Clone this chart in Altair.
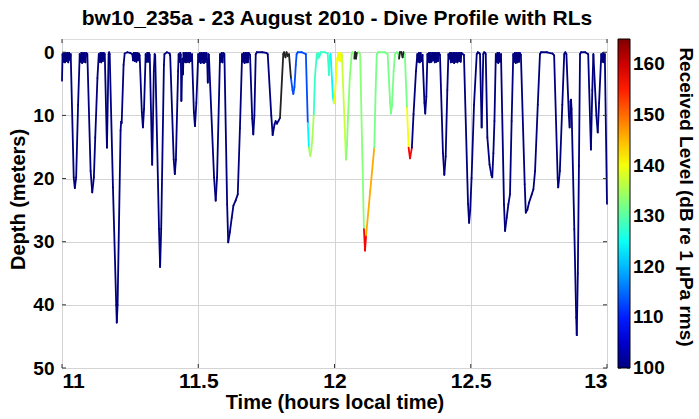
import altair as alt
import pandas as pd

# ---- dive profile (time in hours, depth in metres) ----
time_h = [
    11.000, 11.002, 11.005, 11.008, 11.011, 11.014, 11.017, 11.020, 11.023, 11.026,
    11.029, 11.032, 11.043, 11.047, 11.052, 11.059, 11.065, 11.068, 11.071, 11.074,
    11.077, 11.080, 11.083, 11.086, 11.089, 11.093, 11.105, 11.111, 11.117, 11.122,
    11.130, 11.135, 11.138, 11.141, 11.144, 11.147, 11.150, 11.153, 11.157, 11.165,
    11.171, 11.173, 11.175, 11.187, 11.199, 11.201, 11.204, 11.215, 11.217, 11.219,
    11.226, 11.230, 11.240, 11.250, 11.258, 11.261, 11.264, 11.267, 11.270, 11.273,
    11.276, 11.279, 11.282, 11.285, 11.293, 11.297, 11.301, 11.307, 11.310, 11.313,
    11.316, 11.319, 11.322, 11.331, 11.337, 11.340, 11.342, 11.356, 11.360, 11.364,
    11.374, 11.376, 11.385, 11.395, 11.397, 11.410, 11.414, 11.418, 11.426, 11.428,
    11.431, 11.434, 11.436, 11.438, 11.442, 11.444, 11.446, 11.449, 11.452, 11.455,
    11.458, 11.461, 11.464, 11.467, 11.470, 11.473, 11.477, 11.484, 11.488, 11.493,
    11.500, 11.503, 11.506, 11.509, 11.512, 11.515, 11.518, 11.521, 11.524, 11.527,
    11.530, 11.533, 11.535, 11.537, 11.539, 11.558, 11.564, 11.569, 11.580, 11.583,
    11.586, 11.589, 11.592, 11.596, 11.606, 11.610, 11.616, 11.623, 11.629, 11.637,
    11.645, 11.653, 11.661, 11.664, 11.667, 11.670, 11.673, 11.676, 11.679, 11.682,
    11.685, 11.690, 11.698, 11.702, 11.706, 11.711, 11.715, 11.735, 11.750, 11.755,
    11.768, 11.773, 11.780, 11.784, 11.789, 11.794, 11.800, 11.812, 11.815, 11.820,
    11.824, 11.828, 11.833, 11.840, 11.846, 11.849, 11.853, 11.858, 11.861, 11.865,
    11.880, 11.895, 11.902, 11.906, 11.911, 11.915, 11.919, 11.924, 11.928, 11.935,
    11.938, 11.941, 11.944, 11.950, 11.965, 11.975, 11.980, 11.983, 11.986, 11.994,
    11.998, 12.003, 12.010, 12.014, 12.016, 12.018, 12.020, 12.022, 12.024, 12.027,
    12.039, 12.042, 12.046, 12.049, 12.056, 12.063, 12.066, 12.070, 12.073, 12.076,
    12.079, 12.082, 12.088, 12.094, 12.108, 12.112, 12.116, 12.131, 12.146, 12.151,
    12.155, 12.160, 12.185, 12.195, 12.204, 12.207, 12.211, 12.217, 12.222, 12.228,
    12.234, 12.237, 12.240, 12.245, 12.250, 12.253, 12.258, 12.266, 12.272, 12.277,
    12.284, 12.290, 12.299, 12.304, 12.307, 12.310, 12.313, 12.316, 12.319, 12.323,
    12.330, 12.333, 12.337, 12.341, 12.344, 12.347, 12.350, 12.353, 12.356, 12.359,
    12.362, 12.365, 12.368, 12.371, 12.374, 12.377, 12.380, 12.383, 12.387, 12.398,
    12.403, 12.408, 12.414, 12.418, 12.421, 12.424, 12.427, 12.430, 12.433, 12.436,
    12.439, 12.442, 12.445, 12.448, 12.451, 12.454, 12.457, 12.460, 12.463, 12.466,
    12.470, 12.475, 12.490, 12.494, 12.498, 12.503, 12.512, 12.522, 12.526, 12.530,
    12.534, 12.540, 12.546, 12.549, 12.553, 12.555, 12.561, 12.569, 12.576, 12.579,
    12.583, 12.587, 12.592, 12.595, 12.598, 12.601, 12.604, 12.607, 12.611, 12.622,
    12.626, 12.632, 12.638, 12.644, 12.650, 12.656, 12.659, 12.662, 12.665, 12.668,
    12.671, 12.674, 12.677, 12.680, 12.684, 12.698, 12.702, 12.708, 12.714, 12.724,
    12.730, 12.736, 12.746, 12.754, 12.758, 12.780, 12.800, 12.806, 12.819, 12.821,
    12.827, 12.836, 12.843, 12.847, 12.851, 12.860, 12.863, 12.866, 12.868, 12.870,
    12.880, 12.887, 12.889, 12.893, 12.897, 12.901, 12.905, 12.920, 12.931, 12.941,
    12.946, 12.950, 12.961, 12.966, 12.971, 12.979, 12.983, 12.986, 12.989, 12.992,
    13.000,
]
depth_m = [
    4.5, 0.3, 1.5, 0.1, 1.6, 0.1, 1.4, 0.1, 1.6, 0.1,
    1.2, 0.3, 19.8, 21.5, 19.8, 8.3, 0.3, 1.5, 0.1, 1.7,
    0.1, 1.5, 0.1, 1.6, 0.1, 0.3, 18.8, 22.2, 19.8, 13.5,
    4.1, 0.3, 1.5, 0.1, 1.6, 0.1, 1.4, 0.1, 0.3, 15.1,
    0.3, 0.0, 0.3, 21.4, 40.0, 42.8, 40.0, 12.4, 11.0, 11.2,
    2.0, 0.2, 0.0, 0.1, 0.3, 1.3, 0.1, 1.4, 0.1, 1.5,
    0.1, 1.3, 0.2, 0.5, 9.5, 11.9, 9.0, 0.3, 1.5, 0.1,
    1.5, 0.1, 0.4, 17.8, 3.0, 0.3, 0.5, 28.0, 34.0, 28.0,
    2.0, 0.3, 0.0, 0.2, 0.5, 17.0, 19.3, 17.0, 3.0, 0.3,
    1.5, 0.1, 0.4, 7.7, 1.0, 3.5, 0.1, 1.5, 0.1, 1.6,
    0.1, 1.5, 0.1, 1.6, 0.1, 1.4, 0.3, 9.5, 11.7, 8.0,
    0.3, 1.5, 0.1, 1.7, 0.1, 1.6, 0.1, 1.7, 0.1, 1.5,
    0.1, 1.6, 4.8, 0.3, 0.4, 19.8, 23.5, 19.8, 0.3, 1.5,
    0.1, 1.6, 0.1, 0.3, 24.1, 30.1, 28.5, 26.2, 24.3, 23.5,
    22.5, 12.0, 0.3, 1.5, 0.1, 1.7, 0.1, 1.6, 0.1, 1.6,
    0.1, 0.4, 10.5, 13.0, 10.0, 0.3, 0.0, 0.0, 0.1, 0.3,
    10.0, 13.1, 11.4, 10.9, 11.3, 10.9, 10.4, 0.3, 0.0, 0.8,
    0.0, 0.6, 0.3, 4.0, 6.0, 6.6, 5.5, 2.0, 0.3, 0.0,
    0.0, 0.3, 11.2, 15.1, 16.4, 15.5, 13.5, 9.8, 4.1, 0.3,
    1.0, 0.1, 0.8, 0.0, 0.0, 0.2, 3.6, 0.5, 0.3, 7.0,
    8.1, 6.0, 1.0, 0.2, 1.3, 0.1, 1.4, 0.1, 1.2, 0.3,
    13.5, 17.0, 14.5, 10.9, 4.1, 0.3, 0.0, 0.2, 1.0, 0.0,
    1.0, 0.1, 0.0, 0.3, 28.0, 31.4, 29.0, 22.0, 15.1, 6.0,
    0.3, 0.0, 0.0, 0.3, 8.0, 9.7, 8.5, 3.0, 0.3, 0.0,
    0.2, 1.0, 0.0, 0.0, 0.8, 0.0, 0.3, 8.8, 15.1, 16.8,
    15.1, 9.8, 3.0, 0.3, 1.5, 0.1, 1.6, 0.1, 1.4, 0.4,
    8.0, 9.7, 7.0, 0.3, 1.5, 0.1, 1.6, 0.1, 1.5, 0.1,
    1.3, 0.1, 1.6, 0.1, 1.5, 0.1, 1.4, 0.1, 0.4, 16.0,
    19.4, 16.5, 6.0, 0.3, 1.0, 0.1, 1.6, 0.1, 1.5, 0.1,
    1.7, 0.1, 1.5, 0.1, 1.6, 0.1, 1.4, 0.1, 1.5, 0.1,
    0.3, 0.4, 24.0, 27.0, 25.0, 19.9, 8.3, 0.3, 0.0, 0.1,
    0.3, 11.9, 0.3, 0.0, 0.1, 0.3, 13.5, 17.8, 19.5, 19.8,
    16.0, 10.9, 0.3, 1.5, 0.1, 1.7, 0.1, 1.5, 0.3, 24.1,
    28.3, 26.2, 24.1, 22.5, 10.9, 0.3, 1.5, 0.1, 1.7, 0.1,
    1.6, 0.1, 1.5, 0.1, 0.4, 20.9, 25.4, 24.9, 23.8, 22.5,
    21.7, 18.8, 8.3, 0.3, 0.0, 0.0, 0.2, 0.5, 19.9, 21.4,
    18.8, 8.3, 0.3, 0.0, 0.3, 10.0, 11.9, 7.8, 7.5, 9.0,
    28.0, 42.0, 44.8, 35.0, 18.0, 0.3, 0.0, 0.0, 0.3, 15.4,
    6.0, 0.3, 10.0, 12.7, 8.0, 0.3, 1.5, 0.1, 1.6, 0.3,
    24.0,
]

# ---- received level (dB): time spans ----
rl_start = [11.840, 11.902, 11.908, 11.924, 11.986, 11.999, 12.031, 12.043, 12.109, 12.117, 12.146, 12.266, 12.272]
rl_end   = [11.902, 11.908, 11.924, 11.986, 11.999, 12.031, 12.043, 12.109, 12.117, 12.146, 12.266, 12.272, 12.285]
rl_value = [113,    124,    135,    128,    124,    140,    137,    133,    157,    146,    132,    140,    157]
rl_floor = 100  # colour of the rest of the track (bottom of the colour bar)

# spans drawn in black (no received level)
gap_start = [11.798, 12.073, 12.236]
gap_end   = [11.840, 12.082, 12.254]

x_ticks = [11, 11.5, 12, 12.5, 13]
y_ticks = [0, 10, 20, 30, 40, 50]
cbar_ticks = [100, 110, 120, 130, 140, 150, 160]
cbar_domain = [100, 165]
cbar_title = "Received Level (dB re 1 \u00b5Pa rms)"
chart_title = "bw10_235a - 23 August 2010 - Dive Profile with RLs"

# jet colour map
jet_domain = [100, 108.125, 116.25, 124.375, 132.5, 140.625, 148.75, 156.875, 165]
jet_range = ["#00007f", "#0000ff", "#007fff", "#00ffff", "#7fff7f",
             "#ffff00", "#ff7f00", "#ff0000", "#7f0000"]

rows = []
for i in range(len(time_h) - 1):
    t0, t1 = time_h[i], time_h[i + 1]
    mid = (t0 + t1) / 2
    rl = rl_floor
    for s, e, v in zip(rl_start, rl_end, rl_value):
        if s <= mid < e:
            rl = v
    gap = any(s <= mid < e for s, e in zip(gap_start, gap_end))
    rows.append({"t0": t0, "t1": t1, "d0": depth_m[i], "d1": depth_m[i + 1],
                 "rl": rl, "gap": gap})
seg = pd.DataFrame(rows)

FONT = "Liberation Sans"
W, H = 545, 329

xscale = alt.Scale(domain=[11, 13], nice=False, zero=False)
yscale = alt.Scale(domain=[-2.1, 50], reverse=True, nice=False, zero=False)
cscale = alt.Scale(domain=cbar_domain, nice=False, zero=False)

xaxis = alt.Axis(values=x_ticks, format="~g", title="Time (hours local time)",
                 labelFontSize=21, labelFontWeight="bold", labelFont=FONT,
                 titleFontSize=20, titleFontWeight="bold", titleFont=FONT,
                 labelPadding=2, titlePadding=1, ticks=False, domain=False,
                 grid=True, gridColor="#d4d4d4", labelColor="black", titleColor="black")
yaxis = alt.Axis(values=y_ticks, title="Depth (meters)",
                 labelFontSize=19, labelFontWeight="bold", labelFont=FONT,
                 titleFontSize=20, titleFontWeight="bold", titleFont=FONT,
                 labelPadding=8, titlePadding=4, titleY=160, ticks=False, domain=False,
                 grid=True, gridColor="#d4d4d4", labelColor="black", titleColor="black")

base = alt.Chart(seg)

colored = base.transform_filter("!datum.gap").mark_rule(
    strokeWidth=1.8, strokeCap="round"
).encode(
    x=alt.X("t0:Q", scale=xscale, axis=xaxis),
    x2="t1:Q",
    y=alt.Y("d0:Q", scale=yscale, axis=yaxis),
    y2="d1:Q",
    color=alt.Color("rl:Q",
                    scale=alt.Scale(domain=jet_domain, range=jet_range, interpolate="rgb"),
                    legend=alt.Legend(orient="none", legendX=556, legendY=0,
                                      direction="vertical", title=None,
                                      gradientLength=H, gradientThickness=12,
                                      gradientStrokeColor="black", gradientStrokeWidth=1,
                                      values=cbar_ticks, labelExpr="''", labelOpacity=0,
                                      padding=0)),
)

black = base.transform_filter("datum.gap").mark_rule(
    strokeWidth=1.8, strokeCap="round", color="#222222"
).encode(
    x=alt.X("t0:Q", scale=xscale),
    x2="t1:Q",
    y=alt.Y("d0:Q", scale=yscale, axis=None),
    y2="d1:Q",
)

# inside tick marks of the frame
xt = pd.DataFrame({"t": x_ticks})
yt = pd.DataFrame({"d": y_ticks})
tick_style = dict(color="#333333", strokeWidth=1)
xtick_bottom = alt.Chart(xt).mark_rule(**tick_style).encode(
    x=alt.X("t:Q", scale=xscale), y=alt.value(H), y2=alt.value(H - 4))
xtick_top = alt.Chart(xt).mark_rule(**tick_style).encode(
    x=alt.X("t:Q", scale=xscale), y=alt.value(0), y2=alt.value(4))
ytick_left = alt.Chart(yt).mark_rule(**tick_style).encode(
    y=alt.Y("d:Q", scale=yscale, axis=None), x=alt.value(0), x2=alt.value(4))
ytick_right = alt.Chart(yt).mark_rule(**tick_style).encode(
    y=alt.Y("d:Q", scale=yscale, axis=None), x=alt.value(W), x2=alt.value(W - 4))

# colour-bar ticks and labels
ct = pd.DataFrame({"v": cbar_ticks})
ctick_l = alt.Chart(ct).mark_rule(color="black", strokeWidth=1).encode(
    y=alt.Y("v:Q", scale=cscale, axis=None), x=alt.value(556), x2=alt.value(559))
ctick_r = alt.Chart(ct).mark_rule(color="black", strokeWidth=1).encode(
    y=alt.Y("v:Q", scale=cscale, axis=None), x=alt.value(565), x2=alt.value(568))
clabels = alt.Chart(ct).mark_text(
    align="left", baseline="middle", fontSize=19, fontWeight="bold", font=FONT, color="black"
).encode(
    y=alt.Y("v:Q", scale=cscale, axis=None), x=alt.value(571), text="v:Q")

cb_title = alt.Chart(pd.DataFrame({"label": [cbar_title]})).mark_text(
    angle=90, fontSize=19, fontWeight="bold", font=FONT, color="black",
    align="center", baseline="middle"
).encode(text="label:N", x=alt.value(624), y=alt.value(158))

title_txt = alt.Chart(pd.DataFrame({"label": [chart_title]})).mark_text(
    fontSize=21, fontWeight="bold", font=FONT, color="black",
    align="center", baseline="alphabetic"
).encode(text="label:N", x=alt.value(275), y=alt.value(-14))

chart = alt.layer(
    colored, black, xtick_bottom, xtick_top, ytick_left, ytick_right,
    ctick_l, ctick_r, clabels, cb_title, title_txt
).resolve_scale(y="independent").properties(
    width=W, height=H,
    autosize=alt.AutoSizeParams(type="none"),
    padding={"left": 62, "top": 39, "right": 92, "bottom": 51},
).configure_view(
    stroke="#555555", strokeWidth=1.5
).configure(background="white")

chart.save("out.html", embed_options={"renderer": "svg", "actions": False})
